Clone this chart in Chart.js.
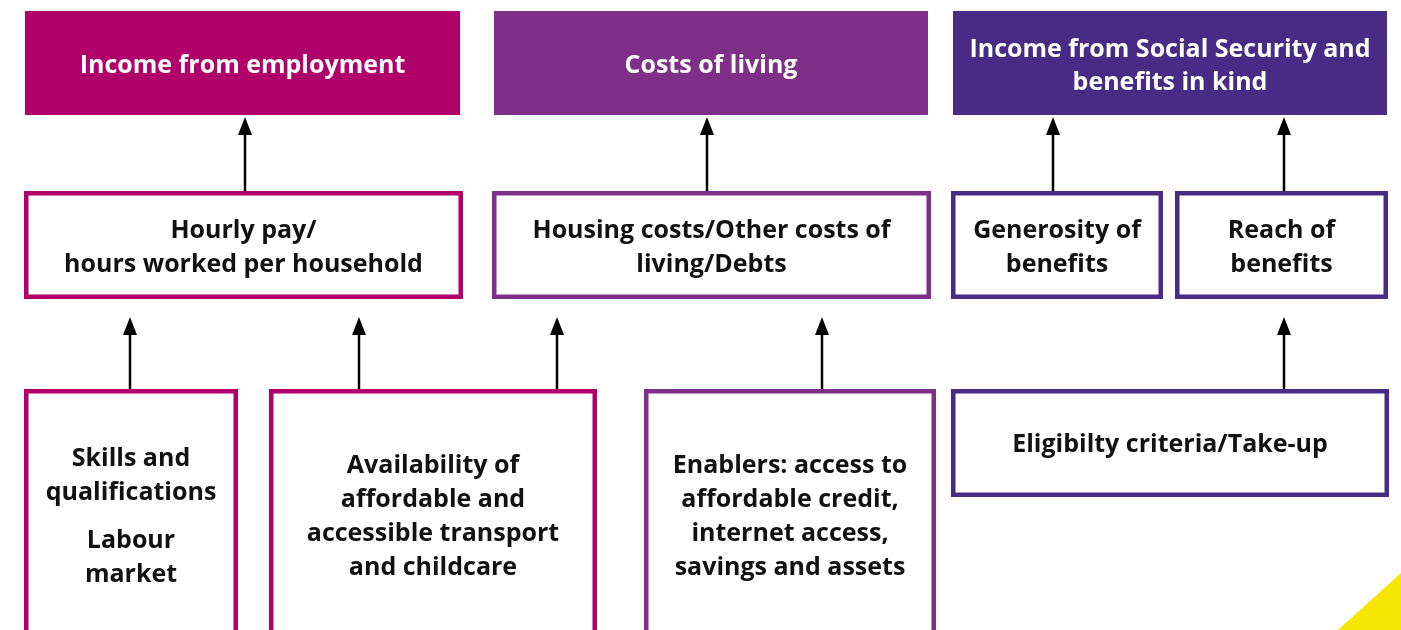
<!DOCTYPE html>
<html lang="en">
<head>
    <meta charset="UTF-8">
    <title>Drivers of poverty</title>
    <script src="https://cdn.jsdelivr.net/npm/chart.js"></script>
    <style>
        html, body {
            margin: 0;
            padding: 0;
            background: #ffffff;
            overflow: hidden;
        }
        #diagram {
            display: block;
        }
    </style>
</head>
<body>
    <canvas id="diagram" width="1401" height="630"></canvas>

    <script>
        // --- content ---
        const headLabels = ['Income from employment', 'Costs of living', 'Income from Social Security and\nbenefits in kind'];
        const midLabels = ['Hourly pay/\nhours worked per household', 'Housing costs/Other costs of\nliving/Debts', 'Generosity of\nbenefits', 'Reach of\nbenefits'];
        const baseLabels = ['Skills and\nqualifications\n\nLabour\nmarket', 'Availability of\naffordable and\naccessible transport\nand childcare', 'Enablers: access to\naffordable credit,\ninternet access,\nsavings and assets', 'Eligibilty criteria/Take-up'];

        // --- layout (diagram units = pixels, y grows downward) ---
        const themeColors = ['#b0006a', '#7e2f88', '#472b84'];
        const headBoxes = [[25, 460, 11, 115, 0], [494, 928, 11, 115, 1], [953, 1387, 11, 115, 2]];
        const midBoxes = [[24, 463, 191, 299, 0], [492, 931, 191, 299, 1], [951, 1163, 191, 299, 2], [1175, 1388, 191, 299, 2]];
        const baseBoxes = [[24, 238, 389, 641, 0], [269, 597, 389, 641, 0], [644, 936, 389, 641, 1], [951, 1389, 389, 497, 2]];
        const arrows = [[245, 191, 117], [707, 191, 117], [1053, 191, 117], [1284, 191, 117],
                        [130, 389, 317], [359, 389, 317], [557, 389, 317], [822, 389, 317], [1284, 389, 317]];
        const corner = [[1338, 630], [1401, 630], [1401, 573]];

        const FONT = '"Open Sans", "Noto Sans", sans-serif';

        function drawText(ctx, text, cx, cy, color, lineH, shift) {
            const lines = text.split('\n');
            const gap = 14;
            let total = 0;
            lines.forEach(l => { total += l === '' ? gap : lineH; });
            let y = cy - total / 2;
            ctx.fillStyle = color;
            ctx.textAlign = 'center';
            ctx.textBaseline = 'middle';
            lines.forEach(l => {
                if (l === '') { y += gap; return; }
                ctx.fillText(l, cx, y + lineH / 2 + shift);
                y += lineH;
            });
        }

        const diagramPlugin = {
            id: 'diagram',
            afterDatasetsDraw(chart) {
                const ctx = chart.ctx;
                const xs = chart.scales.x, ys = chart.scales.y;
                const px = v => xs.getPixelForValue(v);
                const py = v => ys.getPixelForValue(v);
                ctx.save();

                // corner triangle
                ctx.fillStyle = '#f6e500';
                ctx.beginPath();
                corner.forEach((p, i) => i ? ctx.lineTo(px(p[0]), py(p[1])) : ctx.moveTo(px(p[0]), py(p[1])));
                ctx.closePath();
                ctx.fill();

                // headline boxes
                headBoxes.forEach((b, i) => {
                    ctx.fillStyle = themeColors[b[4]];
                    ctx.fillRect(px(b[0]), py(b[2]), px(b[1]) - px(b[0]), py(b[3]) - py(b[2]));
                    ctx.font = 'bold 25px ' + FONT;
                    drawText(ctx, headLabels[i], (px(b[0]) + px(b[1])) / 2, (py(b[2]) + py(b[3])) / 2, '#ffffff', 33, 3);
                });

                // outlined boxes
                const outlined = (boxes, labels, shift) => boxes.forEach((b, i) => {
                    const lw = 4.5;
                    ctx.strokeStyle = themeColors[b[4]];
                    ctx.lineWidth = lw;
                    ctx.fillStyle = '#ffffff';
                    const x0 = px(b[0]) + lw / 2, y0 = py(b[2]) + lw / 2;
                    const w = px(b[1]) - px(b[0]) - lw, h = py(b[3]) - py(b[2]) - lw;
                    ctx.fillRect(x0, y0, w, h);
                    ctx.strokeRect(x0, y0, w, h);
                    ctx.font = 'bold 25px ' + FONT;
                    drawText(ctx, labels[i], (px(b[0]) + px(b[1])) / 2, (py(b[2]) + py(b[3])) / 2, '#111111', 34, shift);
                });
                outlined(midBoxes, midLabels, 3);
                outlined(baseBoxes, baseLabels, 2);

                // arrows
                ctx.strokeStyle = '#000000';
                ctx.fillStyle = '#000000';
                ctx.lineWidth = 2.5;
                arrows.forEach(a => {
                    const x = px(a[0]), yFrom = py(a[1]), yTip = py(a[2]);
                    ctx.beginPath();
                    ctx.moveTo(x, yFrom);
                    ctx.lineTo(x, yTip + 14);
                    ctx.stroke();
                    ctx.beginPath();
                    ctx.moveTo(x, yTip);
                    ctx.lineTo(x - 7, yTip + 18);
                    ctx.lineTo(x + 7, yTip + 18);
                    ctx.closePath();
                    ctx.fill();
                });
                ctx.restore();
            }
        };

        new Chart(document.getElementById('diagram').getContext('2d'), {
            type: 'scatter',
            data: { datasets: [{ data: [], pointRadius: 0 }] },
            options: {
                responsive: false,
                animation: false,
                layout: { padding: 0 },
                plugins: { legend: { display: false }, tooltip: { enabled: false } },
                scales: {
                    x: { type: 'linear', min: 0, max: 1401, display: false },
                    y: { type: 'linear', min: 0, max: 630, reverse: true, display: false }
                }
            },
            plugins: [diagramPlugin]
        });
    </script>
</body>
</html>
